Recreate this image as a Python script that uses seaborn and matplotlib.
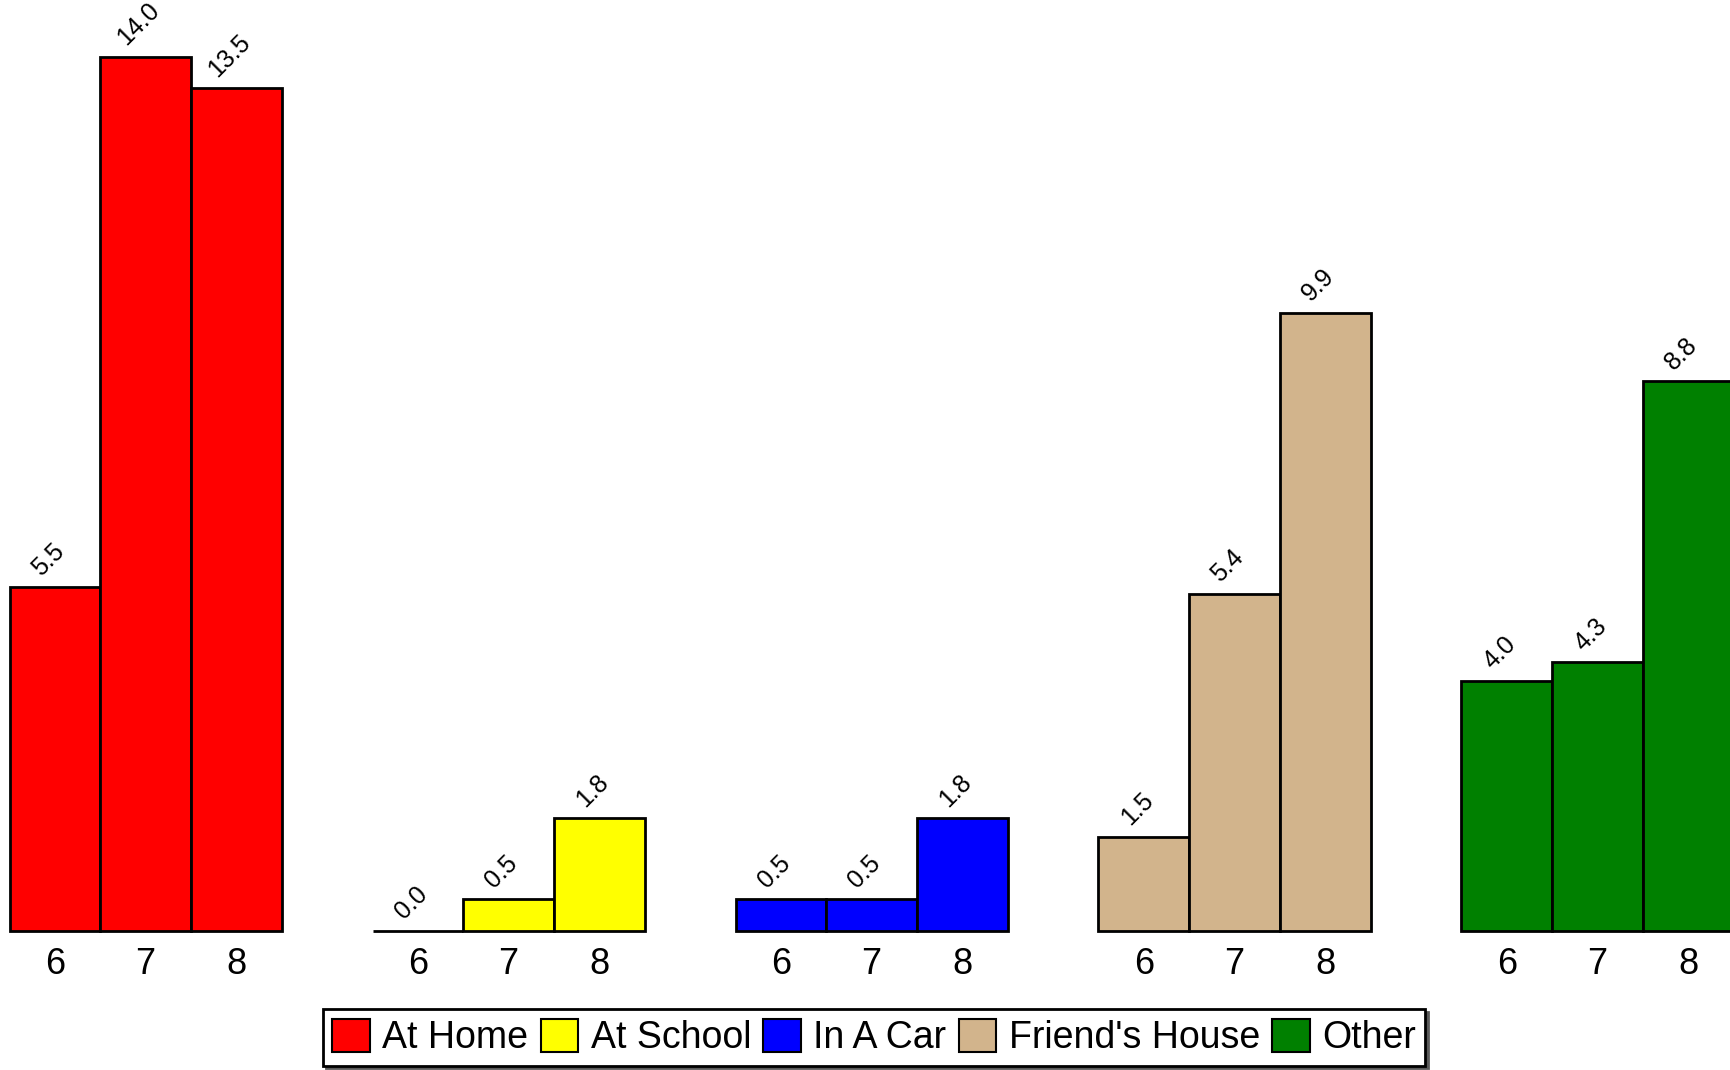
import matplotlib
matplotlib.use("Agg")
import matplotlib.pyplot as plt
from matplotlib.patches import Patch
import seaborn as sns
import pandas as pd

locations = ["At Home", "At School", "In A Car", "Friend's House", "Other"]
grades = ["6", "7", "8"]
at_home = [5.5, 14.0, 13.5]
at_school = [0.0, 0.5, 1.8]
in_a_car = [0.5, 0.5, 1.8]
friends_house = [1.5, 5.4, 9.9]
other = [4.0, 4.3, 8.8]
colors = ["#ff0000", "#ffff00", "#0000ff", "#d2b48c", "#008000"]

series = [at_home, at_school, in_a_car, friends_house, other]
rows = []
for g, (loc, vals) in enumerate(zip(locations, series)):
    for i, (gr, v) in enumerate(zip(grades, vals)):
        rows.append({"location": loc, "grade": gr, "value": v, "pos": g * 4 + i})
df = pd.DataFrame(rows)

sns.set_theme(style="white")
plt.rcParams["font.family"] = ["Liberation Sans", "DejaVu Sans"]
plt.rcParams["text.color"] = "black"
plt.rcParams["xtick.color"] = "black"

fig = plt.figure(figsize=(17.31, 10.70), dpi=100)
ax = fig.add_axes([0, 0.1303, 1, 0.8697])

sns.barplot(data=df, x="pos", y="value", hue="location", hue_order=locations,
            palette=colors, native_scale=True, dodge=False, width=1.0,
            edgecolor="black", linewidth=2, saturation=1, legend=False, ax=ax,
            errorbar=None)
for p in ax.patches:
    p.set_clip_on(False)

for _, r in df.iterrows():
    ax.annotate(f"{r['value']:.1f}", xy=(r["pos"], r["value"]), xytext=(-5, 5),
                textcoords="offset points", rotation=45, ha="center", va="bottom",
                fontsize=18, color="black")

ax.set_xlim(-0.605, 18.47)
ax.set_ylim(0, 14.91)
ax.set_xticks(df["pos"].tolist())
ax.set_xticklabels(df["grade"].tolist(), fontsize=26, color="black")
ax.tick_params(axis="x", length=0, pad=12, colors="black")
ax.set_yticks([])
ax.set_xlabel("")
ax.set_ylabel("")
for s in ax.spines.values():
    s.set_visible(False)
ax.patch.set_alpha(0)

handles = [Patch(facecolor=c, edgecolor="black", linewidth=1.5) for c in colors]
leg = fig.legend(handles, locations, loc="lower center", bbox_to_anchor=(0.505, 0.004),
                 ncol=5, fontsize=27, frameon=True, fancybox=False,
                 shadow={"color": "0.35", "alpha": 1.0}, framealpha=1,
                 handlelength=1.0, handleheight=1.0, handletextpad=0.33,
                 columnspacing=0.33, borderpad=0.25, borderaxespad=0,
                 labelcolor="black")
leg.get_frame().set_edgecolor("black")
leg.get_frame().set_linewidth(2)

fig.savefig("out.png", dpi=100)
